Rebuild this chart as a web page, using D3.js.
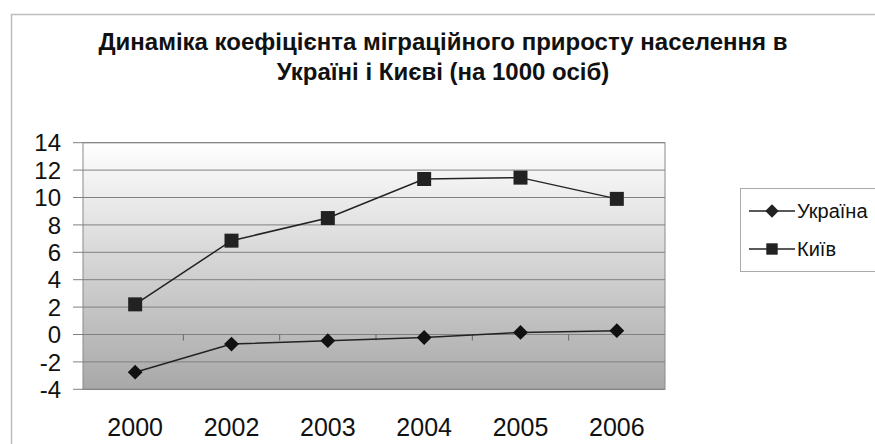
<!DOCTYPE html>
<html><head><meta charset="utf-8">
<script src="https://cdn.jsdelivr.net/npm/d3@7"></script>
<style>body{margin:0;background:#fff}svg{display:block}</style>
</head><body>
<svg id="c" width="875" height="444"></svg>
<script>
const years = ["2000","2002","2003","2004","2005","2006"];
const ukraine = [-2.75, -0.7, -0.45, -0.22, 0.15, 0.28];
const kyiv = [2.2, 6.85, 8.5, 11.35, 11.45, 9.9];
const yTicks = [-4,-2,0,2,4,6,8,10,12,14];
const seriesNames = ["Україна","Київ"];
const titleLines = ["Динаміка коефіцієнта міграційного приросту населення в","Україні і Києві (на 1000 осіб)"];

const svg = d3.select("#c");
svg.append("rect").attr("x",11.5).attr("y",14.5).attr("width",900).attr("height",500)
  .attr("fill","#fff").attr("stroke","#bdbdbd").attr("stroke-width",1.5);

const defs = svg.append("defs");
const g = defs.append("linearGradient").attr("id","bg").attr("x1",0).attr("y1",0).attr("x2",0).attr("y2",1);
g.append("stop").attr("offset","0%").attr("stop-color","#ffffff");
g.append("stop").attr("offset","100%").attr("stop-color","#a8a8a8");

const plotL = 83, plotR = 665, plotT = 142.7, plotB = 389.3;
const x = d3.scaleBand().domain(years).range([87, 665]);
const y = d3.scaleLinear().domain([-4,14]).range([plotB, plotT]);

svg.append("rect").attr("x",plotL).attr("y",plotT).attr("width",plotR-plotL).attr("height",plotB-plotT)
  .attr("fill","url(#bg)").attr("stroke","#8a8a8a").attr("stroke-width",1);

svg.append("g").selectAll("line").data(yTicks).join("line")
  .attr("x1",73).attr("x2",plotR).attr("y1",d=>y(d)).attr("y2",d=>y(d))
  .attr("stroke","#808080").attr("stroke-width",1);

svg.append("g").selectAll("text").data(yTicks).join("text")
  .attr("x",61).attr("y",d=>y(d)).attr("dy","0.36em").attr("text-anchor","end")
  .attr("font-family","Liberation Sans, Arial, sans-serif").attr("font-size",24).attr("fill","#111")
  .text(d=>d);

svg.append("g").selectAll("line").data(years.slice(1)).join("line")
  .attr("x1",d=>x(d)).attr("x2",d=>x(d)).attr("y1",y(0)).attr("y2",y(0)+6)
  .attr("stroke","#666").attr("stroke-width",1);

svg.append("g").selectAll("text").data(years).join("text")
  .attr("x",d=>x(d)+x.bandwidth()/2).attr("y",436)
  .attr("text-anchor","middle")
  .attr("font-family","Liberation Sans, Arial, sans-serif").attr("font-size",25).attr("fill","#111")
  .text(d=>d);

const cx = (d,i)=>x(years[i])+x.bandwidth()/2;
const line = d3.line().x((d,i)=>cx(d,i)).y(d=>y(d));

svg.append("path").datum(kyiv).attr("d",line).attr("fill","none").attr("stroke","#222").attr("stroke-width",1.5);
svg.append("path").datum(ukraine).attr("d",line).attr("fill","none").attr("stroke","#222").attr("stroke-width",1.5);

const sq = d3.symbol().type(d3.symbolSquare).size(196);
const dm = d3.symbol().type(d3.symbolSquare).size(110);
svg.append("g").selectAll("path").data(kyiv).join("path")
  .attr("transform",(d,i)=>`translate(${cx(d,i)},${y(d)})`).attr("d",sq).attr("fill","#222");
svg.append("g").selectAll("path").data(ukraine).join("path")
  .attr("transform",(d,i)=>`translate(${cx(d,i)},${y(d)}) rotate(45)`).attr("d",dm).attr("fill","#111");

svg.append("g").selectAll("text").data(titleLines).join("text")
  .attr("x",443).attr("y",(d,i)=>50+i*30).attr("text-anchor","middle")
  .attr("font-family","Liberation Sans, Arial, sans-serif").attr("font-weight","bold")
  .attr("font-size",24).attr("fill","#111").text(d=>d);

const lg = svg.append("g");
lg.append("rect").attr("x",740.5).attr("y",188.5).attr("width",140).attr("height",83)
  .attr("fill","#fff").attr("stroke","#aaa");
const ly = [211, 249];
seriesNames.forEach((n,i)=>{
  lg.append("line").attr("x1",749).attr("x2",795).attr("y1",ly[i]).attr("y2",ly[i]).attr("stroke","#222").attr("stroke-width",1.5);
  lg.append("path").attr("transform",`translate(772,${ly[i]})` + (i===0?" rotate(45)":""))
    .attr("d", i===0 ? d3.symbol().type(d3.symbolSquare).size(90)() : d3.symbol().type(d3.symbolSquare).size(130)())
    .attr("fill","#222");
  lg.append("text").attr("x",797).attr("y",ly[i]).attr("dy","0.36em")
    .attr("font-family","Liberation Sans, Arial, sans-serif").attr("font-size",20).attr("fill","#111").text(n);
});
</script>
</body></html>
